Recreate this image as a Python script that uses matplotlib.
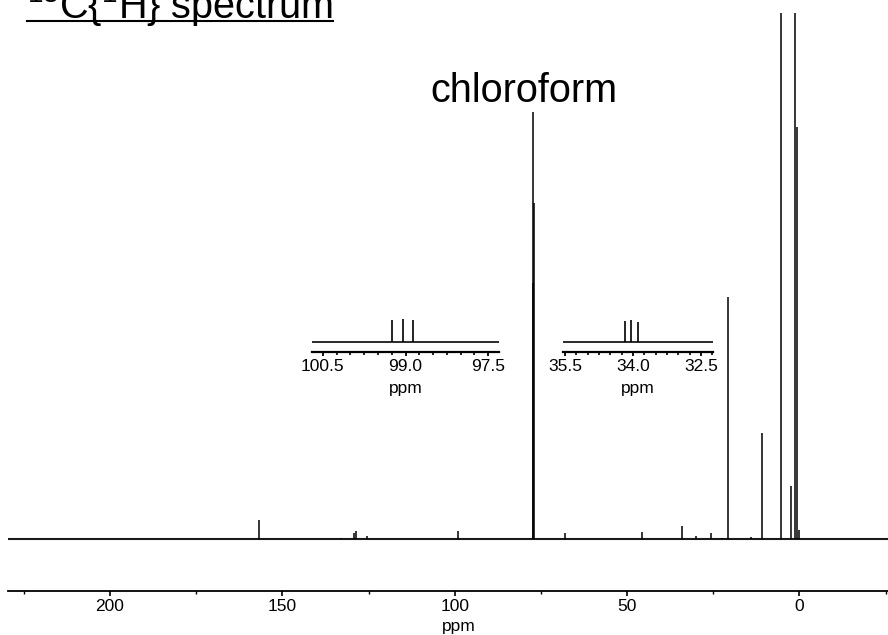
import matplotlib
matplotlib.use("Agg")
import matplotlib.pyplot as plt
from matplotlib.lines import Line2D
from matplotlib.ticker import MultipleLocator, FormatStrFormatter

plt.rcParams['font.family'] = ['Liberation Sans', 'DejaVu Sans']
plt.rcParams['mathtext.fontset'] = 'custom'
plt.rcParams['mathtext.rm'] = 'Liberation Sans'
plt.rcParams['mathtext.default'] = 'regular'

# peak list of the full 13C{1H} spectrum (ppm, intensity; CDCl3 centre line = 100)
peak_ppm = [156.9, 133.0, 129.3, 128.5, 125.5, 99.05, 77.41, 77.16, 76.91,
            68.1, 45.7, 34.04, 29.9, 25.7, 22.4, 20.6, 14.0, 10.8,
            5.45, 2.5, 1.25, 0.75, 0.0]
peak_int = [4.35, 0.3, 1.4, 1.8, 0.77, 1.8, 60.0, 100.0, 78.6,
            1.4, 1.6, 3.1, 0.7, 1.36, 0.25, 56.7, 0.35, 24.8,
            150.0, 12.4, 150.0, 96.4, 2.1]

# expanded regions (relative intensity)
zoom1_ppm = [99.24, 99.05, 98.86]
zoom1_int = [1.0, 1.05, 1.0]
zoom1_ticks = [100.5, 99.0, 97.5]
zoom2_ppm = [34.18, 34.04, 33.90]
zoom2_int = [0.95, 1.0, 0.9]
zoom2_ticks = [35.5, 34.0, 32.5]

W, H = 888, 635
fig = plt.figure(figsize=(W / 100, H / 100), dpi=100)


def px_box(left, top, right, bottom):
    return [left / W, 1 - bottom / H, (right - left) / W, (bottom - top) / H]


def strip_axes(a):
    for side in ['left', 'right', 'top']:
        a.spines[side].set_visible(False)
    a.set_yticks([])
    a.patch.set_alpha(0)


# main spectrum
ax = fig.add_axes(px_box(8.3, 13.3, 888, 591))
strip_axes(ax)
ax.set_xlim(229.5, -25.7)
ax.set_ylim(-12.17, 123.0)
ax.axhline(0, color='#1a1a1a', lw=1.5)
ax.vlines(peak_ppm, 0, peak_int, color='black', lw=1.1)
ax.spines['bottom'].set_linewidth(1.3)
ax.xaxis.set_major_locator(MultipleLocator(50))
ax.xaxis.set_minor_locator(MultipleLocator(25))
ax.tick_params(axis='x', which='major', direction='out', length=3.5, width=1.2,
               labelsize=12.5, pad=2.5)
ax.tick_params(axis='x', which='minor', direction='out', length=2.5, width=1.0)
ax.text(0.512, -35 / 577.7, 'ppm', fontsize=12.5, ha='center', va='center',
        transform=ax.transAxes)


def inset(box, xlim, ppm, inten, ticks):
    a = fig.add_axes(box)
    strip_axes(a)
    a.set_xlim(*xlim)
    a.set_ylim(-0.44, 1.23)
    a.axhline(0, color='#1a1a1a', lw=1.3)
    a.vlines(ppm, 0, inten, color='black', lw=1.2)
    a.spines['bottom'].set_linewidth(1.6)
    a.set_xticks(ticks)
    a.xaxis.set_major_formatter(FormatStrFormatter('%.1f'))
    a.xaxis.set_minor_locator(MultipleLocator(0.25))
    a.tick_params(axis='x', which='major', direction='out', length=3, width=1.3,
                  labelsize=12.5, pad=2.5)
    a.tick_params(axis='x', which='minor', direction='out', length=2.5, width=1.2)
    a.text(0.5, -36.3 / 36.7, 'ppm', fontsize=12.5, ha='center', va='center',
           transform=a.transAxes)
    return a


inset(px_box(311.7, 315, 499.3, 351.7), (100.7, 97.3), zoom1_ppm, zoom1_int, zoom1_ticks)
inset(px_box(562.7, 315, 713.3, 351.7), (35.55, 32.23), zoom2_ppm, zoom2_int, zoom2_ticks)

fig.text(524 / W, 1 - 101.7 / H, 'chloroform', fontsize=28.5, ha='center', va='baseline')

title = fig.text(26.7 / W, 1 - 18.5 / H, r'$^{13}$C{$^{1}$H} spectrum',
                 fontsize=28.5, ha='left', va='baseline')

# underline the title
fig.canvas.draw()
bb = title.get_window_extent()
uy = (H - 20.7) / H
fig.add_artist(Line2D([bb.x0 / W, bb.x1 / W], [uy, uy], color='black', lw=1.5,
                      transform=fig.transFigure))

fig.savefig('out.png', dpi=100)
